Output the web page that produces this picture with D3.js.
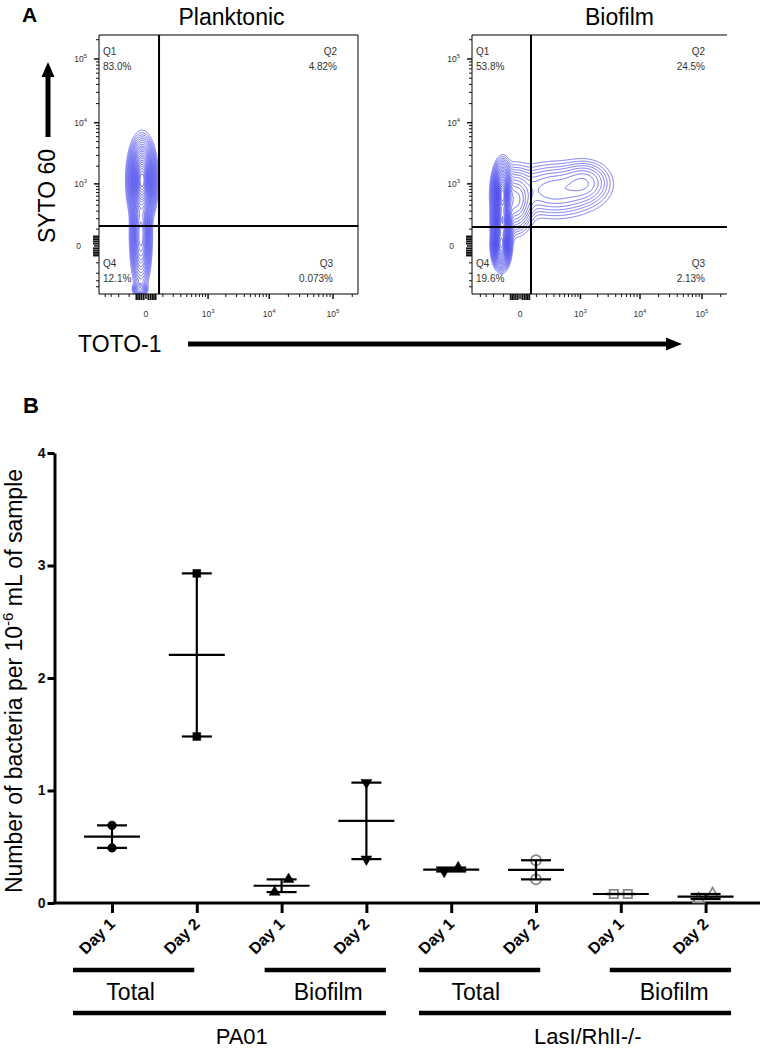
<!DOCTYPE html>
<html><head><meta charset="utf-8">
<script src="https://cdn.jsdelivr.net/npm/d3@7"></script>
<style>
body{margin:0;background:#fff}
svg{display:block}
text{font-family:"Liberation Sans", Arial, Helvetica, sans-serif}
</style>
</head><body>
<svg id="fig" width="763" height="1050"></svg>
<script>
// ================= Panel A data =================
const flowTitles = ["Planktonic", "Biofilm"];
const quadrantNames = ["Q1", "Q2", "Q3", "Q4"];
const planktonicQuadrants = ["83.0%", "4.82%", "0.073%", "12.1%"];
const biofilmQuadrants = ["53.8%", "24.5%", "2.13%", "19.6%"];
const gateX = [72, 60];      // TOTO-1 gate (data units)
const gateY = [126, 118];    // SYTO 60 gate (data units)
const flowMajorTicks = [0, 1e3, 1e4, 1e5];
const flowMajorExp = ["", "3", "4", "5"];
const flowMinorTicks = [-400, -300, -200, -100, -50, -40, -30, -20, -10, 10, 20, 30, 40, 50,
  100, 200, 300, 400, 500, 600, 700, 800, 900,
  2000, 3000, 4000, 5000, 6000, 7000, 8000, 9000,
  20000, 30000, 40000, 50000, 60000, 70000, 80000, 90000, 200000];
// density peaks: [x, y, spreadX, spreadY, weight]
const planktonicPeaks = [
  [-18, 1169, 0.18, 0.54, 1.0],
  [-24, 58, 0.14, 0.72, 0.35],
  [-29, -446, 0.11, 0.11, 0.08]
];
const biofilmPeaks = [
  [-110, 650, 0.14, 0.43, 1.0],
  [-110, 164, 0.14, 0.36, 0.8],
  [-120, 4, 0.13, 0.32, 0.8],
  [-24, 500, 0.3, 0.5, 0.15],
  [317, 777, 0.81, 0.45, 0.06],
  [1200, 1077, 0.44, 0.36, 0.05]
];
const contourLevels = [0.004, 0.007, 0.011, 0.016, 0.023, 0.032, 0.044, 0.06, 0.08, 0.1, 0.13, 0.16, 0.2, 0.25, 0.3, 0.36, 0.43, 0.5, 0.58, 0.66, 0.75, 0.84, 0.92];

// ================= Panel B data =================
const dayLabels = ["Day 1", "Day 2", "Day 1", "Day 2", "Day 1", "Day 2", "Day 1", "Day 2"];
const fractionLabels = ["Total", "Biofilm", "Total", "Biofilm"];
const strainLabels = ["PA01", "LasI/RhlI-/-"];
const pa01Values = [[0.69, 0.49], [2.93, 1.48], [0.21, 0.097], [1.07, 0.39]];
const lasRhlValues = [[0.28, 0.315], [0.38, 0.21], [0.08, 0.08], [0.035, 0.08]];
const markerShapes = [["circle", "circle"], ["square", "square"], ["triangle", "triangle"], ["triangleDown", "triangleDown"],
  ["triangleDown", "triangle"], ["circle", "circle"], ["square", "square"], ["triangle", "triangle"]];
const markerOpen = [false, false, false, false, false, true, true, true];
const yTicksB = [0, 1, 2, 3, 4];
const fractionSpans = [[-0.46, 0.97], [1.80, 3.23], [3.62, 5.05], [5.87, 7.30]];
const fractionLabelPos = [0.22, 2.55, 4.29, 6.63];
const strainSpans = [[-0.46, 3.23], [3.62, 7.30]];
const strainLabelPos = [1.53, 5.61];

// ================= Drawing =================
const svg = d3.select("#fig");
const C = 120;
const T = v => Math.sign(v) * Math.log1p(Math.abs(v) / C);

svg.append("text").attr("x", 22).attr("y", 22).attr("font-size", 21).attr("font-weight", "bold").text("A");

const frames = [
  {left: 99, right: 358, top: 35, bottom: 294, xDomain: [-530, 245900], rightBorder: true, quads: planktonicQuadrants, peaks: planktonicPeaks},
  {left: 472, right: 727, top: 35, bottom: 294, xDomain: [-588, 252000], rightBorder: false, quads: biofilmQuadrants, peaks: biofilmPeaks}
];
const yDomainFlow = [-555, 237000];

frames.forEach((f, k) => {
  const sx = d3.scaleSymlog().constant(C).domain(f.xDomain).range([f.left, f.right]);
  const sy = d3.scaleSymlog().constant(C).domain(yDomainFlow).range([f.bottom, f.top]);
  const g = svg.append("g");
  const clipId = "clip" + k;
  svg.append("clipPath").attr("id", clipId).append("rect")
    .attr("x", f.left).attr("y", f.top).attr("width", f.right - f.left).attr("height", f.bottom - f.top);

  // title
  g.append("text").attr("x", (f.left + f.right) / 2 + (k === 0 ? 3 : 20)).attr("y", 25)
    .attr("text-anchor", "middle").attr("font-size", 23).text(flowTitles[k]);

  // density contours
  const nx = f.right - f.left, ny = f.bottom - f.top;
  const vals = new Array(nx * ny);
  const pk = f.peaks.map(p => [T(p[0]), T(p[1]), p[2], p[3], p[4]]);
  const tx = d3.range(nx).map(i => T(sx.invert(f.left + i + 0.5)));
  const ty = d3.range(ny).map(j => T(sy.invert(f.top + j + 0.5)));
  let mx = 0;
  for (let j = 0; j < ny; j++) for (let i = 0; i < nx; i++) {
    let d = 0;
    for (const p of pk) {
      const a = (tx[i] - p[0]) / p[2], b = (ty[j] - p[1]) / p[3];
      d += p[4] * Math.exp(-0.5 * (a * a + b * b));
    }
    vals[j * nx + i] = d; if (d > mx) mx = d;
  }
  const cs = d3.contours().size([nx, ny]).thresholds(contourLevels.map(l => l * mx))(vals);
  g.append("g").attr("clip-path", `url(#${clipId})`)
    .append("g").attr("transform", `translate(${f.left},${f.top})`)
    .selectAll("path").data(cs).join("path")
    .attr("d", d3.geoPath())
    .attr("fill", "none")
    .attr("stroke", (d, i) => d3.interpolateRgb("#5050f0", "#2828e6")(i / cs.length))
    .attr("stroke-width", 0.85)
    .attr("stroke-opacity", 0.9);

  // frame
  g.append("line").attr("x1", f.left).attr("x2", f.right).attr("y1", f.top).attr("y2", f.top).attr("stroke", "#000");
  g.append("line").attr("x1", f.left).attr("x2", f.right).attr("y1", f.bottom).attr("y2", f.bottom).attr("stroke", "#000");
  g.append("line").attr("x1", f.left).attr("x2", f.left).attr("y1", f.top).attr("y2", f.bottom).attr("stroke", "#000");
  if (f.rightBorder) g.append("line").attr("x1", f.right).attr("x2", f.right).attr("y1", f.top).attr("y2", f.bottom).attr("stroke", "#000");

  // gates
  g.append("line").attr("x1", sx(gateX[k])).attr("x2", sx(gateX[k])).attr("y1", f.top).attr("y2", f.bottom)
    .attr("stroke", "#000").attr("stroke-width", 2);
  g.append("line").attr("x1", f.left).attr("x2", f.right).attr("y1", sy(gateY[k])).attr("y2", sy(gateY[k]))
    .attr("stroke", "#000").attr("stroke-width", 2);

  // y ticks
  const yt = g.append("g").attr("stroke", "#111");
  flowMinorTicks.forEach(v => {
    const near0 = Math.abs(v) <= 50;
    yt.append("line").attr("x1", f.left - (near0 ? 6 : 3)).attr("x2", f.left).attr("y1", sy(v)).attr("y2", sy(v))
      .attr("stroke-width", near0 ? 1.6 : 1);
  });
  flowMajorTicks.forEach(v => {
    yt.append("line").attr("x1", f.left - 5).attr("x2", f.left).attr("y1", sy(v)).attr("y2", sy(v)).attr("stroke-width", 1.5);
  });
  // x ticks
  const xt = g.append("g").attr("stroke", "#111");
  flowMinorTicks.forEach(v => {
    const near0 = Math.abs(v) <= 50;
    xt.append("line").attr("y1", f.bottom + (near0 ? 6 : 3)).attr("y2", f.bottom).attr("x1", sx(v)).attr("x2", sx(v))
      .attr("stroke-width", near0 ? 1.6 : 1);
  });
  flowMajorTicks.forEach(v => {
    xt.append("line").attr("y1", f.bottom + 5).attr("y2", f.bottom).attr("x1", sx(v)).attr("x2", sx(v)).attr("stroke-width", 1.5);
  });

  // tick labels
  flowMajorTicks.forEach((v, i) => {
    const ty1 = g.append("text").attr("font-size", 8.5).attr("fill", "#333")
      .attr("x", f.left - 12).attr("y", sy(v) + 3).attr("text-anchor", "end");
    if (flowMajorExp[i] === "") { ty1.attr("dx", -6).text("0"); }
    else { ty1.text("10"); ty1.append("tspan").attr("font-size", 6).attr("dy", -4).text(flowMajorExp[i]); }
    const tx1 = g.append("text").attr("font-size", 8.5).attr("fill", "#333")
      .attr("x", sx(v)).attr("y", f.bottom + 23).attr("text-anchor", "middle");
    if (flowMajorExp[i] === "") { tx1.text("0"); }
    else { tx1.text("10"); tx1.append("tspan").attr("font-size", 6).attr("dy", -4).text(flowMajorExp[i]); }
  });

  // quadrant labels
  const addQ = (x, y, anchor, a, b) => {
    g.append("text").attr("x", x).attr("y", y).attr("text-anchor", anchor).attr("font-size", 10).attr("fill", "#333").text(a);
    g.append("text").attr("x", x).attr("y", y + 15).attr("text-anchor", anchor).attr("font-size", 10).attr("fill", "#333").text(b);
  };
  const rx = k === 0 ? [f.right - 21, f.right - 25] : [f.right - 22, f.right - 22];
  addQ(f.left + 4, 55, "start", quadrantNames[0], f.quads[0]);
  addQ(rx[0], 55, "end", quadrantNames[1], f.quads[1]);
  addQ(rx[1], 267, "end", quadrantNames[2], f.quads[2]);
  addQ(f.left + 4, 267, "start", quadrantNames[3], f.quads[3]);
});

// axis titles with arrows (panel A)
svg.append("text").attr("transform", "translate(55,196) rotate(-90)").attr("text-anchor", "middle")
  .attr("font-size", 23).text("SYTO 60");
svg.append("line").attr("x1", 48).attr("x2", 48).attr("y1", 137).attr("y2", 74).attr("stroke", "#000").attr("stroke-width", 5);
svg.append("path").attr("d", "M48,62 L41.5,77 L54.5,77 Z").attr("fill", "#000");
svg.append("text").attr("x", 78).attr("y", 352).attr("font-size", 23).text("TOTO-1");
svg.append("line").attr("x1", 188).attr("x2", 668).attr("y1", 344).attr("y2", 344).attr("stroke", "#000").attr("stroke-width", 5);
svg.append("path").attr("d", "M682,344 L666,337.5 L666,350.5 Z").attr("fill", "#000");

// ================= Panel B =================
svg.append("text").attr("x", 23).attr("y", 413).attr("font-size", 22).attr("font-weight", "bold").text("B");

const yB = d3.scaleLinear().domain([0, 4]).range([903, 453]);
const xB = d3.scalePoint().domain(d3.range(dayLabels.length)).range([112, 705.6]);
const xIdx = d3.scaleLinear().domain([0, 7]).range([112, 705.6]);

const gy = svg.append("g").attr("transform", "translate(54.5,0)")
  .call(d3.axisLeft(yB).tickValues(yTicksB).tickSize(7).tickSizeOuter(0).tickPadding(2).tickFormat(d3.format("d")));
gy.select(".domain").attr("stroke-width", 3).attr("stroke", "#000");
gy.selectAll(".tick line").attr("stroke-width", 3).attr("stroke", "#000");
gy.selectAll(".tick text").attr("font-size", 14).attr("font-weight", "bold").attr("fill", "#111")
  .attr("font-family", '"Liberation Sans", Arial, sans-serif');

svg.append("line").attr("x1", 53).attr("x2", 760).attr("y1", yB(0)).attr("y2", yB(0)).attr("stroke", "#000").attr("stroke-width", 3);
const gx = svg.append("g").attr("transform", `translate(0,${yB(0)})`)
  .call(d3.axisBottom(xB).tickSize(10).tickSizeOuter(0).tickFormat(""));
gx.select(".domain").remove();
gx.selectAll(".tick line").attr("stroke-width", 3).attr("stroke", "#000");

svg.append("g").selectAll("text").data(dayLabels).join("text")
  .attr("transform", (d, i) => `translate(${xB(i) + 4},${yB(0) + 22}) rotate(-45)`)
  .attr("text-anchor", "end").attr("font-size", 16).attr("font-weight", "bold").text(d => d);

// y title
const yt = svg.append("text").attr("transform", `translate(22,${(yB(0) + yB(4)) / 2 + 3}) rotate(-90)`)
  .attr("text-anchor", "middle").attr("font-size", 23);
yt.append("tspan").text("Number of bacteria per 10");
yt.append("tspan").attr("font-size", 15).attr("dy", -9).text("-6");
yt.append("tspan").attr("dy", 9).text(" mL of sample");

// data: range bars, mean lines, points
const allValues = pa01Values.concat(lasRhlValues);
const symbolOf = {circle: d3.symbolCircle, square: d3.symbolSquare, triangle: d3.symbolTriangle, triangleDown: d3.symbolTriangle};
const sizeOf = (s, open) => s === "circle" ? (open ? 80 : 58) : s === "square" ? (open ? 70 : 62) : 52;
const gd = svg.append("g");
allValues.forEach((vals, gi) => {
  const cx = xB(gi);
  const mean = d3.mean(vals), lo = d3.min(vals), hi = d3.max(vals);
  const close = Math.abs(yB(vals[0]) - yB(vals[1])) < 14;
  const order = vals.map((v, i) => i).sort((a, b) => vals[a] - vals[b]);
  vals.forEach((v, i) => {
    const shape = markerShapes[gi][i];
    const open = markerOpen[gi];
    const off = close ? (order.indexOf(i) === 0 ? -7 : 7) : 0;
    gd.append("path")
      .attr("d", d3.symbol(symbolOf[shape], sizeOf(shape, open))())
      .attr("transform", `translate(${cx + off},${yB(v)})` + (shape === "triangleDown" ? " rotate(180)" : ""))
      .attr("fill", open ? (shape === "triangle" ? "#fff" : "none") : "#000")
      .attr("stroke", open ? "#888" : "#000")
      .attr("stroke-width", open ? 1.8 : 0.5);
  });
  const lw = 2.2;
  gd.append("line").attr("x1", cx).attr("x2", cx).attr("y1", yB(lo)).attr("y2", yB(hi)).attr("stroke", "#000").attr("stroke-width", lw);
  [lo, hi].forEach(v => gd.append("line").attr("x1", cx - 15).attr("x2", cx + 15).attr("y1", yB(v)).attr("y2", yB(v))
    .attr("stroke", "#000").attr("stroke-width", lw));
  gd.append("line").attr("x1", cx - 28).attr("x2", cx + 28).attr("y1", yB(mean)).attr("y2", yB(mean))
    .attr("stroke", "#000").attr("stroke-width", lw);
});

// group bars and labels
const gb = svg.append("g");
fractionSpans.forEach((s, i) => {
  gb.append("line").attr("x1", xIdx(s[0])).attr("x2", xIdx(s[1])).attr("y1", 970).attr("y2", 970).attr("stroke", "#000").attr("stroke-width", 4.5);
  gb.append("text").attr("x", xIdx(fractionLabelPos[i])).attr("y", 1000).attr("text-anchor", "middle").attr("font-size", 23).text(fractionLabels[i]);
});
strainSpans.forEach((s, i) => {
  gb.append("line").attr("x1", xIdx(s[0])).attr("x2", xIdx(s[1])).attr("y1", 1013).attr("y2", 1013).attr("stroke", "#000").attr("stroke-width", 4.5);
  gb.append("text").attr("x", xIdx(strainLabelPos[i])).attr("y", 1044).attr("text-anchor", "middle").attr("font-size", 22).text(strainLabels[i]);
});
</script>
</body></html>
